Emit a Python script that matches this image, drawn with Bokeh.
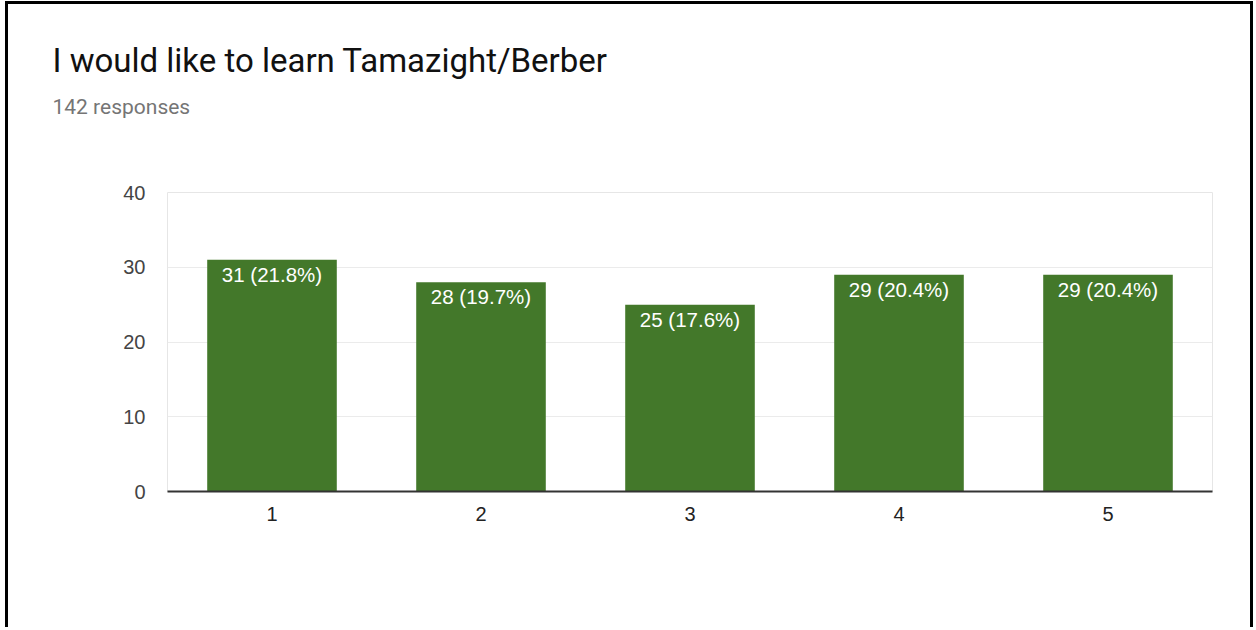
from bokeh.plotting import figure
from bokeh.models import ColumnDataSource, Title, FactorRange
from bokeh.embed import file_html
from bokeh.resources import INLINE
from bokeh.core.properties import value

# Data
categories = ["1", "2", "3", "4", "5"]
counts = [31, 28, 25, 29, 29]
percents = [21.8, 19.7, 17.6, 20.4, 20.4]
y_ticks = [0, 10, 20, 30, 40]
title_text = "I would like to learn Tamazight/Berber"
subtitle_text = "142 responses"

labels = [f"{c} ({p}%)" for c, p in zip(counts, percents)]
source = ColumnDataSource(dict(cat=categories, count=counts, label=labels))

p = figure(
    x_range=FactorRange(*categories, range_padding=0),
    y_range=(0, 40),
    width=1248, height=626,
    output_backend="svg", toolbar_location=None,
    min_border_left=159, min_border_right=44,
    min_border_top=188, min_border_bottom=139,
)
p.styles = {
    "margin-left": "5px",
    "margin-top": "1px",
    "border-left": "3px solid black",
    "border-top": "3px solid black",
    "border-right": "3px solid black",
}
p.background_fill_color = "white"
p.border_fill_color = "white"
p.outline_line_color = "#e6e6e6"
p.outline_line_width = 1

p.vbar(x="cat", top="count", width=0.62, source=source,
       fill_color="#43782a", line_color=None)

p.text(x="cat", y="count", text="label", source=source,
       text_color="white", text_font=value("Liberation Sans"),
       text_font_size="20.5px", text_align="center", text_baseline="top",
       y_offset=3)

# Axes
p.yaxis.ticker = y_ticks
p.yaxis.axis_line_color = None
p.yaxis.major_tick_line_color = None
p.yaxis.minor_tick_line_color = None
p.yaxis.major_label_text_font = "Liberation Sans"
p.yaxis.major_label_text_font_size = "20px"
p.yaxis.major_label_text_color = "#444444"
p.yaxis.major_label_standoff = 16

p.xaxis.axis_line_color = "#333333"
p.xaxis.axis_line_width = 2
p.xaxis.major_tick_line_color = None
p.xaxis.minor_tick_line_color = None
p.xaxis.major_label_text_font = "Liberation Sans"
p.xaxis.major_label_text_font_size = "20px"
p.xaxis.major_label_text_color = "#222222"
p.xaxis.major_label_standoff = 9

p.xgrid.grid_line_color = None
p.ygrid.grid_line_color = "#ebebeb"
p.ygrid.grid_line_width = 1

# Heading block above the frame: spacer, subtitle, title (stacked outward)
p.add_layout(Title(text=" ", text_font_size="1px", standoff=57), "above")
p.add_layout(Title(text=subtitle_text, align="left", offset=-115,
                   text_font="Roboto", text_font_size="21px",
                   text_font_style="normal", text_color="#757575",
                   standoff=27), "above")
p.add_layout(Title(text=title_text, align="left", offset=-115,
                   text_font="Roboto", text_font_size="33px",
                   text_font_style="normal", text_color="#111111",
                   standoff=0), "above")

open("out.html", "w").write(file_html(p, INLINE))
